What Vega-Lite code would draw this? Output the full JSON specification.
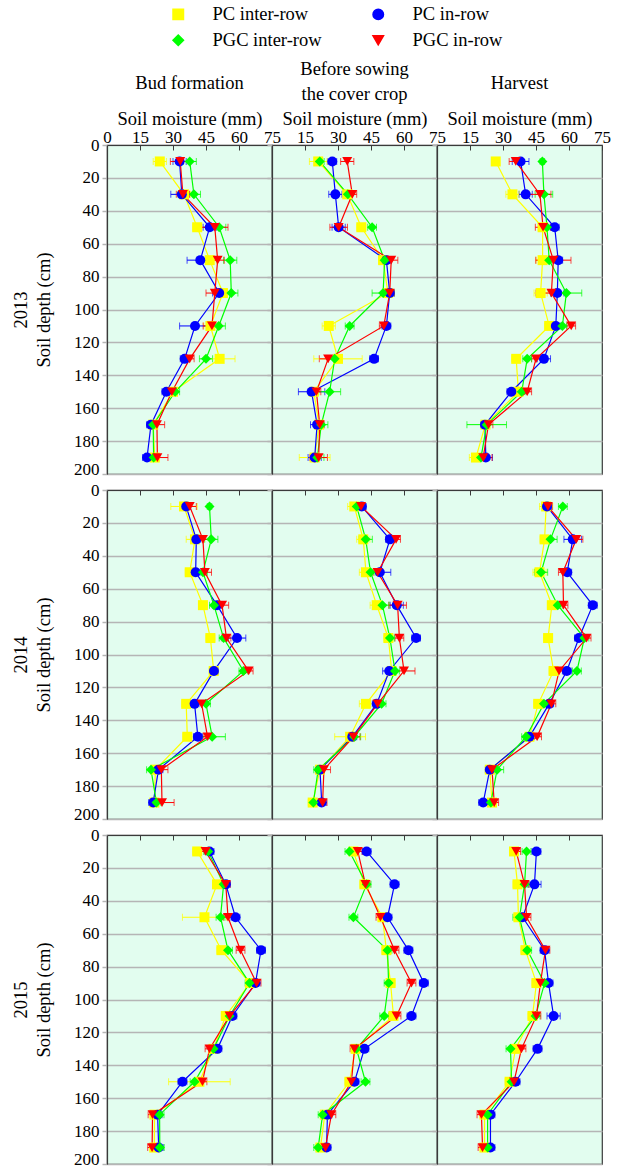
{
"$schema":"https://vega.github.io/schema/vega-lite/v6.json",
"padding":{"left":10,"top":5,"right":5,"bottom":5},
"background":"white",
"datasets":{
"b13":[
{"t":"PC inter-row","d":10,"m":24,"e":3},{"t":"PC inter-row","d":30,"m":35,"e":3},{"t":"PC inter-row","d":50,"m":41,"e":2},{"t":"PC inter-row","d":70,"m":46.7,"e":3},{"t":"PC inter-row","d":90,"m":52.7,"e":2},{"t":"PC inter-row","d":110,"m":47,"e":3},{"t":"PC inter-row","d":130,"m":51.2,"e":7},{"t":"PC inter-row","d":150,"m":30,"e":2},{"t":"PC inter-row","d":170,"m":21,"e":2},{"t":"PC inter-row","d":190,"m":21.7,"e":2},
{"t":"PC in-row","d":10,"m":33,"e":3},{"t":"PC in-row","d":30,"m":34,"e":5},{"t":"PC in-row","d":50,"m":46.7,"e":3},{"t":"PC in-row","d":70,"m":42.4,"e":6},{"t":"PC in-row","d":90,"m":51,"e":3},{"t":"PC in-row","d":110,"m":40,"e":7},{"t":"PC in-row","d":130,"m":35.3,"e":2},{"t":"PC in-row","d":150,"m":27,"e":2},{"t":"PC in-row","d":170,"m":20,"e":2},{"t":"PC in-row","d":190,"m":18.2,"e":2},
{"t":"PGC inter-row","d":10,"m":37.6,"e":3},{"t":"PGC inter-row","d":30,"m":39.5,"e":3},{"t":"PGC inter-row","d":50,"m":51,"e":3},{"t":"PGC inter-row","d":70,"m":56,"e":3},{"t":"PGC inter-row","d":90,"m":56.5,"e":3},{"t":"PGC inter-row","d":110,"m":50.8,"e":3},{"t":"PGC inter-row","d":130,"m":45,"e":3},{"t":"PGC inter-row","d":150,"m":31,"e":2},{"t":"PGC inter-row","d":170,"m":21,"e":2},{"t":"PGC inter-row","d":190,"m":21.2,"e":2},
{"t":"PGC in-row","d":10,"m":33.3,"e":4.5},{"t":"PGC in-row","d":30,"m":34.5,"e":3},{"t":"PGC in-row","d":50,"m":49,"e":6},{"t":"PGC in-row","d":70,"m":50.3,"e":3},{"t":"PGC in-row","d":90,"m":49,"e":4},{"t":"PGC in-row","d":110,"m":47.7,"e":4},{"t":"PGC in-row","d":130,"m":37.6,"e":2},{"t":"PGC in-row","d":150,"m":29.5,"e":2},{"t":"PGC in-row","d":170,"m":22.7,"e":3.5},{"t":"PGC in-row","d":190,"m":22.9,"e":4.8}
],
"s13":[
{"t":"PC inter-row","d":10,"m":21,"e":4},{"t":"PC inter-row","d":30,"m":34.2,"e":2},{"t":"PC inter-row","d":50,"m":40.6,"e":2},{"t":"PC inter-row","d":70,"m":50.5,"e":2},{"t":"PC inter-row","d":90,"m":52.7,"e":2},{"t":"PC inter-row","d":110,"m":25.8,"e":3},{"t":"PC inter-row","d":130,"m":30,"e":11},{"t":"PC inter-row","d":150,"m":19,"e":2},{"t":"PC inter-row","d":170,"m":21.4,"e":2},{"t":"PC inter-row","d":190,"m":19.4,"e":7},
{"t":"PC in-row","d":10,"m":27.4,"e":2},{"t":"PC in-row","d":30,"m":28.8,"e":3},{"t":"PC in-row","d":50,"m":30.3,"e":3},{"t":"PC in-row","d":70,"m":52,"e":2},{"t":"PC in-row","d":90,"m":53.5,"e":2},{"t":"PC in-row","d":110,"m":52,"e":2},{"t":"PC in-row","d":130,"m":46.4,"e":2},{"t":"PC in-row","d":150,"m":18,"e":6},{"t":"PC in-row","d":170,"m":20.5,"e":3},{"t":"PC in-row","d":190,"m":19.4,"e":3},
{"t":"PGC inter-row","d":10,"m":21.7,"e":2},{"t":"PGC inter-row","d":30,"m":34.5,"e":2},{"t":"PGC inter-row","d":50,"m":45.5,"e":2},{"t":"PGC inter-row","d":70,"m":51.2,"e":2},{"t":"PGC inter-row","d":90,"m":50.5,"e":5},{"t":"PGC inter-row","d":110,"m":35.3,"e":2},{"t":"PGC inter-row","d":130,"m":28.5,"e":3},{"t":"PGC inter-row","d":150,"m":26.2,"e":5},{"t":"PGC inter-row","d":170,"m":22.4,"e":3},{"t":"PGC inter-row","d":190,"m":20.6,"e":3},
{"t":"PGC in-row","d":10,"m":34.2,"e":3},{"t":"PGC in-row","d":30,"m":36.5,"e":2},{"t":"PGC in-row","d":50,"m":30.3,"e":4},{"t":"PGC in-row","d":70,"m":54.2,"e":3},{"t":"PGC in-row","d":90,"m":53.5,"e":2},{"t":"PGC in-row","d":110,"m":50.8,"e":2},{"t":"PGC in-row","d":130,"m":25.5,"e":4},{"t":"PGC in-row","d":150,"m":20.2,"e":2},{"t":"PGC in-row","d":170,"m":21.7,"e":2},{"t":"PGC in-row","d":190,"m":21.2,"e":4}
],
"h13":[
{"t":"PC inter-row","d":10,"m":26.7,"e":1},{"t":"PC inter-row","d":30,"m":34.3,"e":3},{"t":"PC inter-row","d":50,"m":48,"e":2},{"t":"PC inter-row","d":70,"m":48,"e":3},{"t":"PC inter-row","d":90,"m":47.1,"e":3},{"t":"PC inter-row","d":110,"m":51,"e":2},{"t":"PC inter-row","d":130,"m":36,"e":2},{"t":"PC inter-row","d":150,"m":37,"e":2},{"t":"PC inter-row","d":170,"m":22,"e":2},{"t":"PC inter-row","d":190,"m":17.7,"e":3},
{"t":"PC in-row","d":10,"m":38,"e":3.8},{"t":"PC in-row","d":30,"m":40.3,"e":3},{"t":"PC in-row","d":50,"m":53.5,"e":2},{"t":"PC in-row","d":70,"m":55.1,"e":2},{"t":"PC in-row","d":90,"m":54.7,"e":3},{"t":"PC in-row","d":110,"m":54,"e":2},{"t":"PC in-row","d":130,"m":48.6,"e":3},{"t":"PC in-row","d":150,"m":33.8,"e":2},{"t":"PC in-row","d":170,"m":21.8,"e":2},{"t":"PC in-row","d":190,"m":22.2,"e":3},
{"t":"PGC inter-row","d":10,"m":47.9,"e":1},{"t":"PGC inter-row","d":30,"m":48.6,"e":4},{"t":"PGC inter-row","d":50,"m":50,"e":2},{"t":"PGC inter-row","d":70,"m":51,"e":2},{"t":"PGC inter-row","d":90,"m":58.8,"e":7},{"t":"PGC inter-row","d":110,"m":57,"e":2},{"t":"PGC inter-row","d":130,"m":41,"e":2},{"t":"PGC inter-row","d":150,"m":38.5,"e":2},{"t":"PGC inter-row","d":170,"m":22.6,"e":9},{"t":"PGC inter-row","d":190,"m":20,"e":2},
{"t":"PGC in-row","d":10,"m":35.8,"e":3},{"t":"PGC in-row","d":30,"m":46.8,"e":5},{"t":"PGC in-row","d":50,"m":48.2,"e":3.5},{"t":"PGC in-row","d":70,"m":52.9,"e":8},{"t":"PGC in-row","d":90,"m":52,"e":7},{"t":"PGC in-row","d":110,"m":61,"e":2},{"t":"PGC in-row","d":130,"m":45,"e":2},{"t":"PGC in-row","d":150,"m":41,"e":2},{"t":"PGC in-row","d":170,"m":23.4,"e":2},{"t":"PGC in-row","d":190,"m":21,"e":4}
],
"b14":[
{"t":"PC inter-row","d":10,"m":35,"e":6},{"t":"PC inter-row","d":30,"m":40,"e":4},{"t":"PC inter-row","d":50,"m":37.6,"e":2},{"t":"PC inter-row","d":70,"m":43.6,"e":2},{"t":"PC inter-row","d":90,"m":47,"e":2},{"t":"PC inter-row","d":110,"m":48.5,"e":2},{"t":"PC inter-row","d":130,"m":36,"e":2},{"t":"PC inter-row","d":150,"m":36.5,"e":2},{"t":"PC inter-row","d":170,"m":22,"e":2},{"t":"PC inter-row","d":190,"m":21.5,"e":2},
{"t":"PC in-row","d":10,"m":36,"e":2},{"t":"PC in-row","d":30,"m":40.6,"e":2},{"t":"PC in-row","d":50,"m":40.3,"e":2},{"t":"PC in-row","d":70,"m":50,"e":2},{"t":"PC in-row","d":90,"m":59.1,"e":4},{"t":"PC in-row","d":110,"m":48.6,"e":2},{"t":"PC in-row","d":130,"m":39.8,"e":2},{"t":"PC in-row","d":150,"m":41.3,"e":2},{"t":"PC in-row","d":170,"m":23.4,"e":2},{"t":"PC in-row","d":190,"m":21,"e":2},
{"t":"PGC inter-row","d":10,"m":46.6,"e":1},{"t":"PGC inter-row","d":30,"m":47.4,"e":3},{"t":"PGC inter-row","d":50,"m":43.6,"e":2},{"t":"PGC inter-row","d":70,"m":48.6,"e":2},{"t":"PGC inter-row","d":90,"m":53,"e":2},{"t":"PGC inter-row","d":110,"m":62,"e":2},{"t":"PGC inter-row","d":130,"m":45,"e":2},{"t":"PGC inter-row","d":150,"m":47.8,"e":6},{"t":"PGC inter-row","d":170,"m":20,"e":2},{"t":"PGC inter-row","d":190,"m":22.5,"e":2},
{"t":"PGC in-row","d":10,"m":37.6,"e":3},{"t":"PGC in-row","d":30,"m":43.6,"e":3},{"t":"PGC in-row","d":50,"m":44.5,"e":3},{"t":"PGC in-row","d":70,"m":52.3,"e":3},{"t":"PGC in-row","d":90,"m":54.3,"e":2},{"t":"PGC in-row","d":110,"m":64.4,"e":2},{"t":"PGC in-row","d":130,"m":43,"e":2},{"t":"PGC in-row","d":150,"m":45.7,"e":2},{"t":"PGC in-row","d":170,"m":24.7,"e":3},{"t":"PGC in-row","d":190,"m":25,"e":5.5}
],
"s14":[
{"t":"PC inter-row","d":10,"m":37.4,"e":3},{"t":"PC inter-row","d":30,"m":41.5,"e":3},{"t":"PC inter-row","d":50,"m":42.7,"e":3},{"t":"PC inter-row","d":70,"m":47.6,"e":3},{"t":"PC inter-row","d":90,"m":52.9,"e":2},{"t":"PC inter-row","d":110,"m":54.4,"e":2},{"t":"PC inter-row","d":130,"m":42.7,"e":3},{"t":"PC inter-row","d":150,"m":35.5,"e":7},{"t":"PC inter-row","d":170,"m":21.8,"e":2},{"t":"PC inter-row","d":190,"m":18.5,"e":2},
{"t":"PC in-row","d":10,"m":40.8,"e":2},{"t":"PC in-row","d":30,"m":53.6,"e":2},{"t":"PC in-row","d":50,"m":49,"e":5},{"t":"PC in-row","d":70,"m":56.7,"e":3},{"t":"PC in-row","d":90,"m":65.5,"e":2},{"t":"PC in-row","d":110,"m":53.3,"e":3},{"t":"PC in-row","d":130,"m":47.6,"e":2},{"t":"PC in-row","d":150,"m":36.5,"e":2},{"t":"PC in-row","d":170,"m":21.8,"e":2},{"t":"PC in-row","d":190,"m":22.6,"e":2},
{"t":"PGC inter-row","d":10,"m":38.5,"e":2},{"t":"PGC inter-row","d":30,"m":42.6,"e":3},{"t":"PGC inter-row","d":50,"m":44.8,"e":2},{"t":"PGC inter-row","d":70,"m":50.2,"e":3},{"t":"PGC inter-row","d":90,"m":53.6,"e":2},{"t":"PGC inter-row","d":110,"m":55.9,"e":2},{"t":"PGC inter-row","d":130,"m":49.8,"e":2},{"t":"PGC inter-row","d":150,"m":37.3,"e":3},{"t":"PGC inter-row","d":170,"m":21,"e":2},{"t":"PGC inter-row","d":190,"m":18.8,"e":2},
{"t":"PGC in-row","d":10,"m":40.5,"e":2},{"t":"PGC in-row","d":30,"m":56.4,"e":2},{"t":"PGC in-row","d":50,"m":48,"e":2},{"t":"PGC in-row","d":70,"m":57.1,"e":4},{"t":"PGC in-row","d":90,"m":57.9,"e":2},{"t":"PGC in-row","d":110,"m":60,"e":5},{"t":"PGC in-row","d":130,"m":48,"e":2},{"t":"PGC in-row","d":150,"m":37,"e":3},{"t":"PGC in-row","d":170,"m":23.6,"e":3},{"t":"PGC in-row","d":190,"m":23,"e":2}
],
"h14":[
{"t":"PC inter-row","d":10,"m":49.6,"e":3},{"t":"PC inter-row","d":30,"m":48.9,"e":2},{"t":"PC inter-row","d":50,"m":46.6,"e":3},{"t":"PC inter-row","d":70,"m":52.2,"e":2},{"t":"PC inter-row","d":90,"m":50.5,"e":2},{"t":"PC inter-row","d":110,"m":53,"e":2},{"t":"PC inter-row","d":130,"m":46,"e":2},{"t":"PC inter-row","d":150,"m":42,"e":2},{"t":"PC inter-row","d":170,"m":24,"e":2},{"t":"PC inter-row","d":190,"m":25,"e":2},
{"t":"PC in-row","d":10,"m":50,"e":2},{"t":"PC in-row","d":30,"m":61.7,"e":4},{"t":"PC in-row","d":50,"m":59.2,"e":2},{"t":"PC in-row","d":70,"m":70.8,"e":2},{"t":"PC in-row","d":90,"m":64.5,"e":2},{"t":"PC in-row","d":110,"m":59,"e":2},{"t":"PC in-row","d":130,"m":51,"e":2},{"t":"PC in-row","d":150,"m":42,"e":2},{"t":"PC in-row","d":170,"m":24,"e":2},{"t":"PC in-row","d":190,"m":21,"e":2},
{"t":"PGC inter-row","d":10,"m":57.2,"e":2},{"t":"PGC inter-row","d":30,"m":51.6,"e":3},{"t":"PGC inter-row","d":50,"m":47.3,"e":3},{"t":"PGC inter-row","d":70,"m":54.9,"e":2},{"t":"PGC inter-row","d":90,"m":67,"e":2},{"t":"PGC inter-row","d":110,"m":63.6,"e":2},{"t":"PGC inter-row","d":130,"m":48.6,"e":2},{"t":"PGC inter-row","d":150,"m":40.5,"e":2},{"t":"PGC inter-row","d":170,"m":27.3,"e":3},{"t":"PGC inter-row","d":190,"m":24.5,"e":2},
{"t":"PGC in-row","d":10,"m":50.4,"e":2},{"t":"PGC in-row","d":30,"m":63.3,"e":3},{"t":"PGC in-row","d":50,"m":57.2,"e":2},{"t":"PGC in-row","d":70,"m":57.5,"e":2},{"t":"PGC in-row","d":90,"m":68,"e":2},{"t":"PGC in-row","d":110,"m":55.5,"e":2},{"t":"PGC in-row","d":130,"m":52,"e":2},{"t":"PGC in-row","d":150,"m":45.5,"e":2},{"t":"PGC in-row","d":170,"m":25,"e":2},{"t":"PGC in-row","d":190,"m":26,"e":2}
],
"b15":[
{"t":"PC inter-row","d":10,"m":41,"e":2},{"t":"PC inter-row","d":30,"m":50,"e":2},{"t":"PC inter-row","d":50,"m":44.3,"e":10},{"t":"PC inter-row","d":70,"m":52,"e":2},{"t":"PC inter-row","d":90,"m":65,"e":2},{"t":"PC inter-row","d":110,"m":54,"e":2},{"t":"PC inter-row","d":130,"m":48.4,"e":2},{"t":"PC inter-row","d":150,"m":42,"e":14},{"t":"PC inter-row","d":170,"m":21.6,"e":2},{"t":"PC inter-row","d":190,"m":21.5,"e":2},
{"t":"PC in-row","d":10,"m":46.6,"e":2},{"t":"PC in-row","d":30,"m":54,"e":2},{"t":"PC in-row","d":50,"m":58.4,"e":2},{"t":"PC in-row","d":70,"m":70,"e":2},{"t":"PC in-row","d":90,"m":67.5,"e":2},{"t":"PC in-row","d":110,"m":57,"e":2},{"t":"PC in-row","d":130,"m":50.2,"e":2},{"t":"PC in-row","d":150,"m":34.3,"e":2},{"t":"PC in-row","d":170,"m":23,"e":2},{"t":"PC in-row","d":190,"m":23.5,"e":2},
{"t":"PGC inter-row","d":10,"m":46,"e":2},{"t":"PGC inter-row","d":30,"m":53,"e":2},{"t":"PGC inter-row","d":50,"m":51.6,"e":2},{"t":"PGC inter-row","d":70,"m":55,"e":2},{"t":"PGC inter-row","d":90,"m":64.8,"e":2},{"t":"PGC inter-row","d":110,"m":55.7,"e":2},{"t":"PGC inter-row","d":130,"m":48.4,"e":2},{"t":"PGC inter-row","d":150,"m":39.8,"e":2},{"t":"PGC inter-row","d":170,"m":23.9,"e":2},{"t":"PGC inter-row","d":190,"m":24,"e":2},
{"t":"PGC in-row","d":10,"m":44.8,"e":2},{"t":"PGC in-row","d":30,"m":54,"e":2},{"t":"PGC in-row","d":50,"m":55,"e":2},{"t":"PGC in-row","d":70,"m":60.7,"e":2},{"t":"PGC in-row","d":90,"m":68,"e":2},{"t":"PGC in-row","d":110,"m":55.7,"e":2},{"t":"PGC in-row","d":130,"m":46.6,"e":2},{"t":"PGC in-row","d":150,"m":43.4,"e":2},{"t":"PGC in-row","d":170,"m":20.7,"e":2},{"t":"PGC in-row","d":190,"m":20.5,"e":2}
],
"s15":[
{"t":"PC inter-row","d":10,"m":37,"e":2},{"t":"PC inter-row","d":30,"m":42,"e":2},{"t":"PC inter-row","d":50,"m":50.2,"e":2},{"t":"PC inter-row","d":70,"m":52,"e":2},{"t":"PC inter-row","d":90,"m":53.9,"e":2},{"t":"PC inter-row","d":110,"m":55.2,"e":2},{"t":"PC inter-row","d":130,"m":38,"e":2},{"t":"PC inter-row","d":150,"m":35.2,"e":2},{"t":"PC inter-row","d":170,"m":24,"e":2},{"t":"PC inter-row","d":190,"m":22,"e":2},
{"t":"PC in-row","d":10,"m":43,"e":2},{"t":"PC in-row","d":30,"m":55.7,"e":2},{"t":"PC in-row","d":50,"m":52.5,"e":2},{"t":"PC in-row","d":70,"m":62,"e":2},{"t":"PC in-row","d":90,"m":69,"e":2},{"t":"PC in-row","d":110,"m":63.4,"e":2},{"t":"PC in-row","d":130,"m":42,"e":2},{"t":"PC in-row","d":150,"m":37.5,"e":2},{"t":"PC in-row","d":170,"m":25.2,"e":2},{"t":"PC in-row","d":190,"m":24.8,"e":2},
{"t":"PGC inter-row","d":10,"m":35.2,"e":2},{"t":"PGC inter-row","d":30,"m":43,"e":2},{"t":"PGC inter-row","d":50,"m":37,"e":2},{"t":"PGC inter-row","d":70,"m":52.5,"e":2},{"t":"PGC inter-row","d":90,"m":53,"e":2},{"t":"PGC inter-row","d":110,"m":51,"e":2},{"t":"PGC inter-row","d":130,"m":38.4,"e":2},{"t":"PGC inter-row","d":150,"m":42.5,"e":2},{"t":"PGC inter-row","d":170,"m":23,"e":2},{"t":"PGC inter-row","d":190,"m":21,"e":2},
{"t":"PGC in-row","d":10,"m":39,"e":2},{"t":"PGC in-row","d":30,"m":42.5,"e":2},{"t":"PGC in-row","d":50,"m":49.3,"e":2},{"t":"PGC in-row","d":70,"m":55.7,"e":2},{"t":"PGC in-row","d":90,"m":63.4,"e":2},{"t":"PGC in-row","d":110,"m":56.6,"e":2},{"t":"PGC in-row","d":130,"m":37.5,"e":2},{"t":"PGC in-row","d":150,"m":36.1,"e":2},{"t":"PGC in-row","d":170,"m":27,"e":2},{"t":"PGC in-row","d":190,"m":24.3,"e":2}
],
"h15":[
{"t":"PC inter-row","d":10,"m":35,"e":2},{"t":"PC inter-row","d":30,"m":36.6,"e":2},{"t":"PC inter-row","d":50,"m":37,"e":2},{"t":"PC inter-row","d":70,"m":40.2,"e":2},{"t":"PC inter-row","d":90,"m":45.2,"e":2},{"t":"PC inter-row","d":110,"m":43.4,"e":2},{"t":"PC inter-row","d":130,"m":35.7,"e":2},{"t":"PC inter-row","d":150,"m":33,"e":2},{"t":"PC inter-row","d":170,"m":21.6,"e":2},{"t":"PC inter-row","d":190,"m":21.6,"e":2},
{"t":"PC in-row","d":10,"m":45.2,"e":2},{"t":"PC in-row","d":30,"m":44.3,"e":3},{"t":"PC in-row","d":50,"m":38.9,"e":2},{"t":"PC in-row","d":70,"m":48.9,"e":2},{"t":"PC in-row","d":90,"m":50.7,"e":2},{"t":"PC in-row","d":110,"m":53,"e":3},{"t":"PC in-row","d":130,"m":45.7,"e":2},{"t":"PC in-row","d":150,"m":35.7,"e":2},{"t":"PC in-row","d":170,"m":24.3,"e":2},{"t":"PC in-row","d":190,"m":24.3,"e":2},
{"t":"PGC inter-row","d":10,"m":40.7,"e":2},{"t":"PGC inter-row","d":30,"m":39.8,"e":2},{"t":"PGC inter-row","d":50,"m":37.5,"e":3},{"t":"PGC inter-row","d":70,"m":41,"e":2},{"t":"PGC inter-row","d":90,"m":48.9,"e":2},{"t":"PGC inter-row","d":110,"m":44.8,"e":2},{"t":"PGC inter-row","d":130,"m":33.4,"e":2},{"t":"PGC inter-row","d":150,"m":33.9,"e":2},{"t":"PGC inter-row","d":170,"m":23,"e":2},{"t":"PGC inter-row","d":190,"m":23,"e":2},
{"t":"PGC in-row","d":10,"m":36,"e":2},{"t":"PGC in-row","d":30,"m":39.8,"e":2},{"t":"PGC in-row","d":50,"m":40.7,"e":2},{"t":"PGC in-row","d":70,"m":49.3,"e":2},{"t":"PGC in-row","d":90,"m":47,"e":2},{"t":"PGC in-row","d":110,"m":45.2,"e":2},{"t":"PGC in-row","d":130,"m":38.4,"e":2},{"t":"PGC in-row","d":150,"m":35,"e":2},{"t":"PGC in-row","d":170,"m":20.2,"e":2},{"t":"PGC in-row","d":190,"m":20.7,"e":2}
]
},
"columns":3,
"spacing":{"row":16,"column":0},
"bounds":"flush",
"concat":[
{"data":{"name":"b13"},"title":{"text":"Bud formation","dy":-11},
"encoding":{"x":{"field":"m","type":"quantitative","scale":{"domain":[0,75],"nice":false},"axis":{"orient":"top","values":[0,15,30,45,60,75],"title":"Soil moisture (mm)"}},
"y":{"field":"d","type":"quantitative","scale":{"domain":[0,200],"reverse":true,"nice":false},"axis":{"values":[0,20,40,60,80,100,120,140,160,180,200],"title":["2013","Soil depth (cm)"],"labelBaseline":{"condition":{"test":"datum.value == 200","value":"alphabetic"},"value":"middle"}}},
"color":{"field":"t","type":"nominal","scale":{"domain":["PC inter-row","PGC inter-row","PC in-row","PGC in-row"]},"legend":{"orient":"none","legendX":62,"legendY":-140,"columns":2,"columnPadding":47,"rowPadding":7,"title":null,"values":["PC inter-row","PGC inter-row","PC in-row","PGC in-row"],"symbolSize":110,"labelOffset":25,"labelFontSize":18.5,"labelFont":"Liberation Serif","labelColor":"#000","symbolOpacity":1}}},
"layer":[{"mark":{"type":"errorbar","ticks":true,"size":7,"thickness":1},"encoding":{"xError":{"field":"e"}}},{"mark":{"type":"line","strokeWidth":1.2},"encoding":{"order":{"field":"d","type":"quantitative"}}},{"mark":{"type":"point","filled":true,"size":100,"opacity":1},"encoding":{"shape":{"field":"t","type":"nominal","scale":{"domain":["PC inter-row","PGC inter-row","PC in-row","PGC in-row"]},"legend":null}}}]},
{"data":{"name":"s13"},"title":{"text":["Before sowing","the cover crop"],"lineHeight":25},
"encoding":{"x":{"field":"m","type":"quantitative","scale":{"domain":[0,75],"nice":false},"axis":{"orient":"top","values":[15,30,45,60,75],"title":"Soil moisture (mm)"}},
"y":{"field":"d","type":"quantitative","scale":{"domain":[0,200],"reverse":true,"nice":false},"axis":{"values":[0,20,40,60,80,100,120,140,160,180,200],"labels":false,"title":null}},
"color":{"field":"t","type":"nominal","scale":{"domain":["PC inter-row","PGC inter-row","PC in-row","PGC in-row"]}}},
"layer":[{"mark":{"type":"errorbar","ticks":true,"size":7,"thickness":1},"encoding":{"xError":{"field":"e"}}},{"mark":{"type":"line","strokeWidth":1.2},"encoding":{"order":{"field":"d","type":"quantitative"}}},{"mark":{"type":"point","filled":true,"size":100,"opacity":1},"encoding":{"shape":{"field":"t","type":"nominal","scale":{"domain":["PC inter-row","PGC inter-row","PC in-row","PGC in-row"]},"legend":null}}}]},
{"data":{"name":"h13"},"title":{"text":"Harvest","dy":-11},
"encoding":{"x":{"field":"m","type":"quantitative","scale":{"domain":[0,75],"nice":false},"axis":{"orient":"top","values":[15,30,45,60,75],"title":"Soil moisture (mm)"}},
"y":{"field":"d","type":"quantitative","scale":{"domain":[0,200],"reverse":true,"nice":false},"axis":{"values":[0,20,40,60,80,100,120,140,160,180,200],"labels":false,"title":null}},
"color":{"field":"t","type":"nominal","scale":{"domain":["PC inter-row","PGC inter-row","PC in-row","PGC in-row"]}}},
"layer":[{"mark":{"type":"errorbar","ticks":true,"size":7,"thickness":1},"encoding":{"xError":{"field":"e"}}},{"mark":{"type":"line","strokeWidth":1.2},"encoding":{"order":{"field":"d","type":"quantitative"}}},{"mark":{"type":"point","filled":true,"size":100,"opacity":1},"encoding":{"shape":{"field":"t","type":"nominal","scale":{"domain":["PC inter-row","PGC inter-row","PC in-row","PGC in-row"]},"legend":null}}}]},
{"data":{"name":"b14"},
"encoding":{"x":{"field":"m","type":"quantitative","scale":{"domain":[0,75],"nice":false},"axis":{"orient":"top","values":[15,30,45,60],"labels":false,"title":null}},
"y":{"field":"d","type":"quantitative","scale":{"domain":[0,200],"reverse":true,"nice":false},"axis":{"values":[0,20,40,60,80,100,120,140,160,180,200],"title":["2014","Soil depth (cm)"],"labelBaseline":{"condition":{"test":"datum.value == 200","value":"alphabetic"},"value":"middle"}}},
"color":{"field":"t","type":"nominal","scale":{"domain":["PC inter-row","PGC inter-row","PC in-row","PGC in-row"]}}},
"layer":[{"mark":{"type":"errorbar","ticks":true,"size":7,"thickness":1},"encoding":{"xError":{"field":"e"}}},{"mark":{"type":"line","strokeWidth":1.2},"encoding":{"order":{"field":"d","type":"quantitative"}}},{"mark":{"type":"point","filled":true,"size":100,"opacity":1},"encoding":{"shape":{"field":"t","type":"nominal","scale":{"domain":["PC inter-row","PGC inter-row","PC in-row","PGC in-row"]},"legend":null}}}]},
{"data":{"name":"s14"},
"encoding":{"x":{"field":"m","type":"quantitative","scale":{"domain":[0,75],"nice":false},"axis":{"orient":"top","values":[15,30,45,60],"labels":false,"title":null}},
"y":{"field":"d","type":"quantitative","scale":{"domain":[0,200],"reverse":true,"nice":false},"axis":{"values":[0,20,40,60,80,100,120,140,160,180,200],"labels":false,"title":null}},
"color":{"field":"t","type":"nominal","scale":{"domain":["PC inter-row","PGC inter-row","PC in-row","PGC in-row"]}}},
"layer":[{"mark":{"type":"errorbar","ticks":true,"size":7,"thickness":1},"encoding":{"xError":{"field":"e"}}},{"mark":{"type":"line","strokeWidth":1.2},"encoding":{"order":{"field":"d","type":"quantitative"}}},{"mark":{"type":"point","filled":true,"size":100,"opacity":1},"encoding":{"shape":{"field":"t","type":"nominal","scale":{"domain":["PC inter-row","PGC inter-row","PC in-row","PGC in-row"]},"legend":null}}}]},
{"data":{"name":"h14"},
"encoding":{"x":{"field":"m","type":"quantitative","scale":{"domain":[0,75],"nice":false},"axis":{"orient":"top","values":[15,30,45,60],"labels":false,"title":null}},
"y":{"field":"d","type":"quantitative","scale":{"domain":[0,200],"reverse":true,"nice":false},"axis":{"values":[0,20,40,60,80,100,120,140,160,180,200],"labels":false,"title":null}},
"color":{"field":"t","type":"nominal","scale":{"domain":["PC inter-row","PGC inter-row","PC in-row","PGC in-row"]}}},
"layer":[{"mark":{"type":"errorbar","ticks":true,"size":7,"thickness":1},"encoding":{"xError":{"field":"e"}}},{"mark":{"type":"line","strokeWidth":1.2},"encoding":{"order":{"field":"d","type":"quantitative"}}},{"mark":{"type":"point","filled":true,"size":100,"opacity":1},"encoding":{"shape":{"field":"t","type":"nominal","scale":{"domain":["PC inter-row","PGC inter-row","PC in-row","PGC in-row"]},"legend":null}}}]},
{"data":{"name":"b15"},
"encoding":{"x":{"field":"m","type":"quantitative","scale":{"domain":[0,75],"nice":false},"axis":{"orient":"top","values":[15,30,45,60],"labels":false,"title":null}},
"y":{"field":"d","type":"quantitative","scale":{"domain":[0,200],"reverse":true,"nice":false},"axis":{"values":[0,20,40,60,80,100,120,140,160,180,200],"title":["2015","Soil depth (cm)"],"labelBaseline":{"condition":{"test":"datum.value == 200","value":"alphabetic"},"value":"middle"}}},
"color":{"field":"t","type":"nominal","scale":{"domain":["PC inter-row","PGC inter-row","PC in-row","PGC in-row"]}}},
"layer":[{"mark":{"type":"errorbar","ticks":true,"size":7,"thickness":1},"encoding":{"xError":{"field":"e"}}},{"mark":{"type":"line","strokeWidth":1.2},"encoding":{"order":{"field":"d","type":"quantitative"}}},{"mark":{"type":"point","filled":true,"size":100,"opacity":1},"encoding":{"shape":{"field":"t","type":"nominal","scale":{"domain":["PC inter-row","PGC inter-row","PC in-row","PGC in-row"]},"legend":null}}}]},
{"data":{"name":"s15"},
"encoding":{"x":{"field":"m","type":"quantitative","scale":{"domain":[0,75],"nice":false},"axis":{"orient":"top","values":[15,30,45,60],"labels":false,"title":null}},
"y":{"field":"d","type":"quantitative","scale":{"domain":[0,200],"reverse":true,"nice":false},"axis":{"values":[0,20,40,60,80,100,120,140,160,180,200],"labels":false,"title":null}},
"color":{"field":"t","type":"nominal","scale":{"domain":["PC inter-row","PGC inter-row","PC in-row","PGC in-row"]}}},
"layer":[{"mark":{"type":"errorbar","ticks":true,"size":7,"thickness":1},"encoding":{"xError":{"field":"e"}}},{"mark":{"type":"line","strokeWidth":1.2},"encoding":{"order":{"field":"d","type":"quantitative"}}},{"mark":{"type":"point","filled":true,"size":100,"opacity":1},"encoding":{"shape":{"field":"t","type":"nominal","scale":{"domain":["PC inter-row","PGC inter-row","PC in-row","PGC in-row"]},"legend":null}}}]},
{"data":{"name":"h15"},
"encoding":{"x":{"field":"m","type":"quantitative","scale":{"domain":[0,75],"nice":false},"axis":{"orient":"top","values":[15,30,45,60],"labels":false,"title":null}},
"y":{"field":"d","type":"quantitative","scale":{"domain":[0,200],"reverse":true,"nice":false},"axis":{"values":[0,20,40,60,80,100,120,140,160,180,200],"labels":false,"title":null}},
"color":{"field":"t","type":"nominal","scale":{"domain":["PC inter-row","PGC inter-row","PC in-row","PGC in-row"]}}},
"layer":[{"mark":{"type":"errorbar","ticks":true,"size":7,"thickness":1},"encoding":{"xError":{"field":"e"}}},{"mark":{"type":"line","strokeWidth":1.2},"encoding":{"order":{"field":"d","type":"quantitative"}}},{"mark":{"type":"point","filled":true,"size":100,"opacity":1},"encoding":{"shape":{"field":"t","type":"nominal","scale":{"domain":["PC inter-row","PGC inter-row","PC in-row","PGC in-row"]},"legend":null}}}]}
],
"config":{
"font":"Liberation Serif",
"view":{"continuousWidth":165,"continuousHeight":329,"fill":"#e2fdef","stroke":"#3a3a3a","strokeWidth":1.2},
"axis":{"labelFontSize":17,"titleFontSize":18.5,"titleFontWeight":"normal","labelColor":"#000","titleColor":"#000","domainColor":"#3a3a3a","labelFont":"Liberation Serif","titleFont":"Liberation Serif","labelFlush":false,"labelOverlap":false},
"axisX":{"grid":false,"tickSize":-5,"labelPadding":4,"tickColor":"#3a3a3a","domainWidth":1.2,"titlePadding":0},
"axisY":{"grid":true,"gridColor":"#b5b5b5","gridWidth":1.5,"tickColor":"#b5b5b5","tickSize":5,"tickWidth":1.5,"domainWidth":1.2,"titleLineHeight":23,"titlePadding":20,"labelPadding":3},
"legend":{"labelFontSize":18.5,"labelFont":"Liberation Serif","labelColor":"#000","symbolSize":110,"labelOffset":25,"symbolOpacity":1},
"title":{"fontSize":18.5,"fontWeight":"normal","font":"Liberation Serif","color":"#000","offset":6},
"range":{"category":["#ffff00","#00ff00","#0000ff","#ff0000"],"symbol":["square","diamond","circle","triangle-down"]}
}
}
